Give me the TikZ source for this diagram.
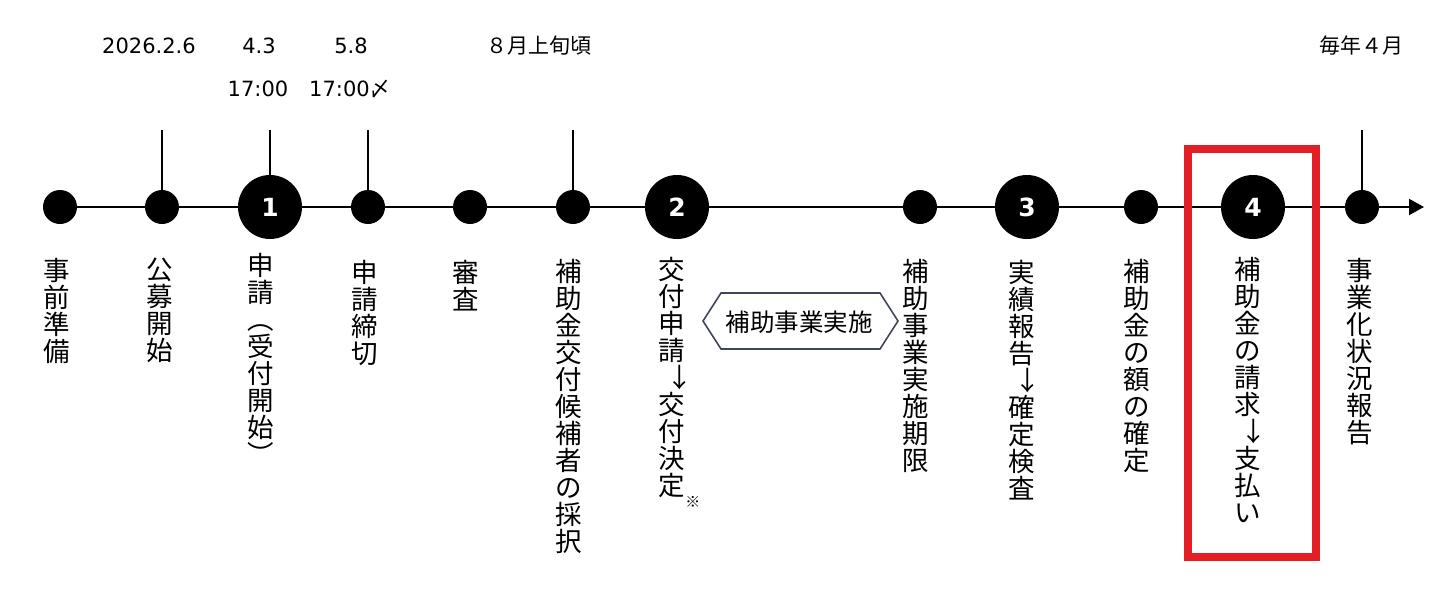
\documentclass[tikz,border=0pt]{standalone}
\usepackage{fontspec}
\setmainfont{Noto Sans CJK JP}
\newfontfamily\latinfont{DejaVu Sans}
\usetikzlibrary{arrows.meta}
\definecolor{boxred}{HTML}{E31E24}
\definecolor{hexedge}{HTML}{3F4756}
\begin{document}
\begin{tikzpicture}[x=1pt,y=-1pt,
  tline/.style={line width=2pt,black},
  dotnode/.style={circle,fill=black,inner sep=0pt,minimum size=34pt},
  bignode/.style={circle,fill=black,inner sep=0pt,minimum size=64pt,text=white,font=\latinfont\bfseries\fontsize{25}{28}\selectfont},
  vlabel/.style={align=center,anchor=north,inner sep=0pt,font=\fontsize{26.5}{27}\selectfont},
  toplabel/.style={inner sep=0pt,font=\fontsize{21}{24}\selectfont},
  hexlabel/.style={inner sep=0pt,font=\fontsize{24.5}{26}\selectfont},
  redbox/.style={draw=boxred,line width=8pt}
]
\useasboundingbox (0,0) rectangle (1449,597);

% timeline nodes
\node[dotnode] (d1) at (60,207) {};
\node[dotnode] (d2) at (162,207) {};
\node[bignode] (b1) at (270,207) {1};
\node[dotnode] (d3) at (368,207) {};
\node[dotnode] (d4) at (470,207) {};
\node[dotnode] (d5) at (573,207) {};
\node[bignode] (b2) at (677,207) {2};
\node[dotnode] (d6) at (920,207) {};
\node[bignode] (b3) at (1027,207) {3};
\node[dotnode] (d7) at (1141,207) {};
\node[bignode] (b4) at (1253,207) {4};
\node[dotnode] (d8) at (1362,207) {};
\coordinate (tlend) at (1424,207);

\draw[tline] (d1) -- (d2) -- (b1) -- (d3) -- (d4) -- (d5) -- (b2) -- (d6) -- (b3) -- (d7) -- (b4) -- (d8);
\draw[tline,-{Triangle[length=15pt,width=16pt]}] (d8) -- (tlend);

% ticks
\coordinate (t2) at (162,130);
\coordinate (t3) at (270,130);
\coordinate (t4) at (368,130);
\coordinate (t5) at (573,130);
\coordinate (t6) at (1362,130);
\draw[tline] (t2) -- (d2);
\draw[tline] (t3) -- (b1);
\draw[tline] (t4) -- (d3);
\draw[tline] (t5) -- (d5);
\draw[tline] (t6) -- (d8);

% top labels
\node[toplabel] (l1) at (149,46) {\latinfont 2026.2.6};
\node[toplabel] (l2) at (259,46) {\latinfont 4.3};
\node[toplabel] (l3) at (351,46) {\latinfont 5.8};
\node[toplabel] (l4) at (258,89) {\latinfont 17:00};
\node[toplabel] (l5) at (350,89) {{\latinfont 17:00}〆};
\node[toplabel] (l6) at (539,46) {８月上旬頃};
\node[toplabel] (l7) at (1361,46) {毎年４月};

% vertical labels
\node[vlabel] (v1) at (57,258) {事\\前\\準\\備};
\node[vlabel] (v2) at (160,258) {公\\募\\開\\始};
\node[vlabel] (v3) at (261,253) {申\\請\\︵\\受\\付\\開\\始\\︶};
\node[vlabel] (v4) at (365,260) {申\\請\\締\\切};
\node[vlabel] (v5) at (466,260) {審\\査};
\node[vlabel] (v6) at (569,259) {補\\助\\金\\交\\付\\候\\補\\者\\の\\採\\択};
\node[vlabel] (v7) at (672,257) {交\\付\\申\\請\\\makebox[1em]{\hspace{0.6em}↓}\\交\\付\\決\\定\rlap{\raisebox{-0.45em}{\fontsize{15}{15}\selectfont ※}}};
\node[vlabel] (v8) at (916,259) {補\\助\\事\\業\\実\\施\\期\\限};
\node[vlabel] (v9) at (1022,260) {実\\績\\報\\告\\\makebox[1em]{\hspace{0.4em}↓}\\確\\定\\検\\査};
\node[vlabel] (v10) at (1137,259) {補\\助\\金\\の\\額\\の\\確\\定};
\node[vlabel] (v11) at (1248,257) {補\\助\\金\\の\\請\\求\\\makebox[1em]{\hspace{0.4em}↓}\\支\\払\\い};
\node[vlabel] (v12) at (1360,258) {事\\業\\化\\状\\況\\報\\告};

% hexagon
\draw[hexedge,line width=1.6pt] (703,321) -- (721,293) -- (880,293) -- (898,321) -- (880,349) -- (721,349) -- cycle;
\node[hexlabel] (hx) at (799,322) {補助事業実施};

% red highlight box
\draw[redbox] (1188,149) rectangle (1316,557);
\end{tikzpicture}
\end{document}
